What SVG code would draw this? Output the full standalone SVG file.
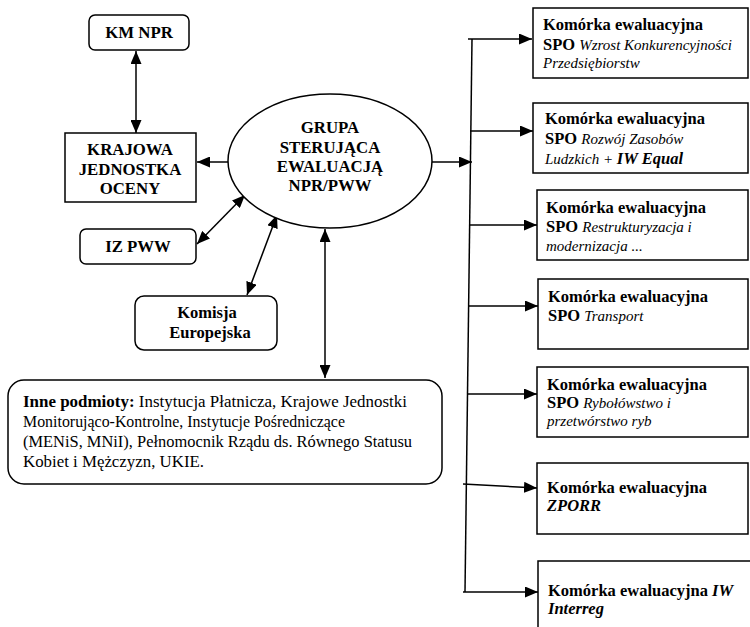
<svg xmlns="http://www.w3.org/2000/svg" width="750" height="627" viewBox="0 0 750 627">
<defs>
<marker id="ah" markerUnits="userSpaceOnUse" markerWidth="13" markerHeight="11" refX="13" refY="5.5" orient="auto-start-reverse" viewBox="0 0 13 11">
<path d="M0,0 L13,5.5 L0,11 z" fill="#000"/>
</marker>
<style>
.box{fill:#fff;stroke:#000;stroke-width:1.5}
.t{font-family:"Liberation Serif","Times New Roman",serif;font-size:16.5px;fill:#000}
.b{font-weight:bold}
.i{font-style:italic;font-size:15px}
.bi{font-style:italic;font-weight:bold;font-size:16.5px}
.c{text-anchor:middle}
.ln{stroke:#000;stroke-width:1.5;fill:none}
.ar{stroke:#000;stroke-width:1.5;fill:none;marker-end:url(#ah)}
.ar2{stroke:#000;stroke-width:1.5;fill:none;marker-end:url(#ah);marker-start:url(#ah)}
</style>
</defs>
<rect width="750" height="627" fill="#fff"/>

<g id="connectors">
<line class="ar2" x1="136" y1="51" x2="136" y2="133"/>
<line class="ar" x1="228" y1="162" x2="197" y2="162"/>
<line class="ar2" x1="197" y1="244" x2="245" y2="195"/>
<line class="ar2" x1="247" y1="295" x2="277" y2="215"/>
<line class="ar2" x1="325" y1="229" x2="325" y2="378"/>
<line class="ar" x1="432" y1="162" x2="472" y2="162"/>
<polyline class="ln" points="472,39 465,592"/>
<line class="ar" x1="468" y1="39" x2="532" y2="39"/>
<line class="ar" x1="470" y1="131" x2="533" y2="131"/>
<line class="ar" x1="469" y1="225" x2="537" y2="225"/>
<line class="ar" x1="468" y1="306" x2="538" y2="306"/>
<line class="ar" x1="467" y1="394" x2="537" y2="394"/>
<line class="ar" x1="463" y1="484" x2="537" y2="488"/>
<line class="ar" x1="463" y1="592" x2="538" y2="592"/>
</g>

<g id="km-npr">
<rect class="box" x="89" y="15" width="100" height="35" rx="6"/>
<text class="t b c" x="139" y="38" style="font-size:16.8px">KM NPR</text>
</g>

<g id="krajowa">
<rect class="box" x="65" y="133" width="131" height="69"/>
<text class="t b c" x="130" y="155" style="font-size:16.8px">KRAJOWA</text>
<text class="t b c" x="130" y="175" style="font-size:16.8px">JEDNOSTKA</text>
<text class="t b c" x="130" y="194" style="font-size:16.8px">OCENY</text>
</g>

<g id="grupa">
<ellipse class="box" cx="330" cy="161" rx="102" ry="67"/>
<text class="t b c" x="330" y="133" style="font-size:16.8px">GRUPA</text>
<text class="t b c" x="330" y="153" style="font-size:16.8px">STERUJĄCA</text>
<text class="t b c" x="330" y="172" style="font-size:16.8px">EWALUACJĄ</text>
<text class="t b c" x="330" y="191" style="font-size:16.8px">NPR/PWW</text>
</g>

<g id="iz-pww">
<rect class="box" x="80" y="229" width="116" height="35" rx="6"/>
<text class="t b c" x="138" y="252" style="font-size:16.8px">IZ PWW</text>
</g>

<g id="komisja">
<rect class="box" x="135" y="296" width="142" height="54" rx="9"/>
<text class="t b c" x="207" y="318">Komisja</text>
<text class="t b c" x="210" y="338">Europejska</text>
</g>

<g id="inne">
<rect class="box" x="8" y="380" width="434" height="104" rx="16"/>
<text class="t" x="23" y="407" textLength="384" lengthAdjust="spacingAndGlyphs"><tspan class="b">Inne podmioty:</tspan> Instytucja Płatnicza, Krajowe Jednostki</text>
<text class="t" x="23" y="427" textLength="322" lengthAdjust="spacingAndGlyphs">Monitorująco-Kontrolne, Instytucje Pośredniczące</text>
<text class="t" x="23" y="447" textLength="389" lengthAdjust="spacingAndGlyphs">(MENiS, MNiI), Pełnomocnik Rządu ds. Równego Statusu</text>
<text class="t" x="23" y="467" textLength="181" lengthAdjust="spacingAndGlyphs">Kobiet i Mężczyzn, UKIE.</text>
</g>

<g id="k1">
<rect class="box" x="533" y="8" width="215" height="70"/>
<text class="t b" x="543" y="30">Komórka ewaluacyjna</text>
<text class="t" x="543" y="50"><tspan class="b">SPO</tspan> <tspan class="i">Wzrost Konkurencyjności</tspan></text>
<text class="t i" x="543" y="68">Przedsiębiorstw</text>
</g>

<g id="k2">
<rect class="box" x="533" y="103" width="215" height="70"/>
<text class="t b" x="545" y="124">Komórka ewaluacyjna</text>
<text class="t" x="545" y="144"><tspan class="b">SPO</tspan> <tspan class="i">Rozwój Zasobów</tspan></text>
<text class="t" x="545" y="164"><tspan class="i">Ludzkich + </tspan><tspan class="bi">IW Equal</tspan></text>
</g>

<g id="k3">
<rect class="box" x="537" y="190" width="211" height="70"/>
<text class="t b" x="546" y="213">Komórka ewaluacyjna</text>
<text class="t" x="546" y="232"><tspan class="b">SPO</tspan> <tspan class="i">Restrukturyzacja i</tspan></text>
<text class="t i" x="546" y="251">modernizacja ...</text>
</g>

<g id="k4">
<rect class="box" x="538" y="279" width="210" height="70"/>
<text class="t b" x="548" y="302">Komórka ewaluacyjna</text>
<text class="t" x="548" y="321"><tspan class="b">SPO</tspan> <tspan class="i">Transport</tspan></text>
</g>

<g id="k5">
<rect class="box" x="537" y="367" width="211" height="70"/>
<text class="t b" x="547" y="390">Komórka ewaluacyjna</text>
<text class="t" x="547" y="408"><tspan class="b">SPO</tspan> <tspan class="i">Rybołówstwo i</tspan></text>
<text class="t i" x="547" y="426">przetwórstwo ryb</text>
</g>

<g id="k6">
<rect class="box" x="537" y="463" width="211" height="71"/>
<text class="t b" x="547" y="493">Komórka ewaluacyjna</text>
<text class="t bi" x="547" y="511">ZPORR</text>
</g>

<g id="k7">
<rect class="box" x="538" y="561" width="220" height="80"/>
<text class="t b" x="548" y="596">Komórka ewaluacyjna <tspan class="bi">IW</tspan></text>
<text class="t bi" x="548" y="614">Interreg</text>
</g>
</svg>
